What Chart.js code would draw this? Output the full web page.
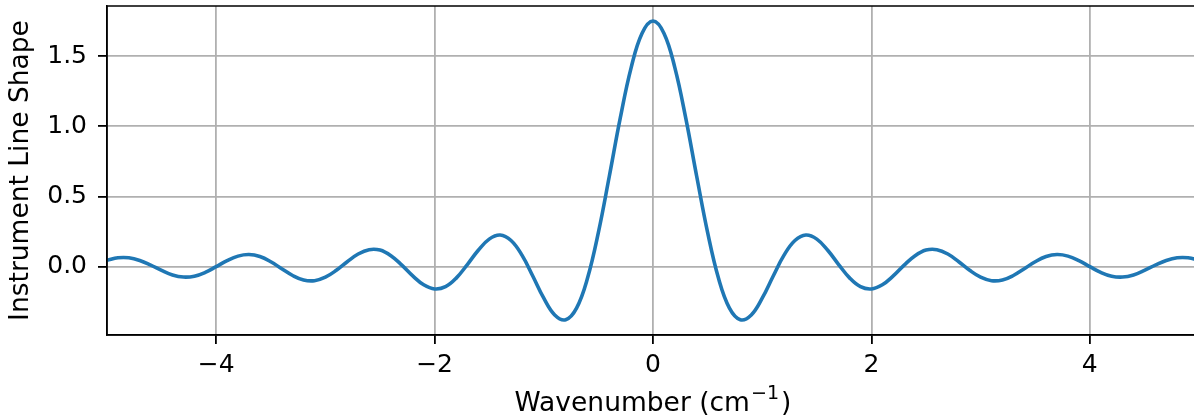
<!DOCTYPE html>
<html>
<head>
<meta charset="utf-8">
<script src="https://cdn.jsdelivr.net/npm/chart.js@4.4.1/dist/chart.umd.min.js"></script>
<style>
  html, body { margin: 0; padding: 0; background: #fff; overflow: hidden; }
  #wrap { position: relative; width: 1203px; height: 418px; }
</style>
</head>
<body>
<div id="wrap"><canvas id="chartIls"></canvas></div>
<script>
/* ── Data ─────────────────────────────────────────────────── */
const wavenumber = [
  -5.0, -4.9, -4.8, -4.7, -4.6, -4.5, -4.4, -4.3, -4.2, -4.1,
  -4.0, -3.9, -3.8, -3.7, -3.6, -3.5, -3.4, -3.3, -3.2, -3.1,
  -3.0, -2.9, -2.8, -2.7, -2.6, -2.5, -2.4, -2.3, -2.2, -2.1,
  -2.0, -1.9, -1.8, -1.7, -1.6, -1.5, -1.4, -1.3, -1.2, -1.1,
  -1.0, -0.9, -0.8, -0.7, -0.6, -0.5, -0.4, -0.3, -0.2, -0.1,
  0.0, 0.1, 0.2, 0.3, 0.4, 0.5, 0.6, 0.7, 0.8, 0.9,
  1.0, 1.1, 1.2, 1.3, 1.4, 1.5, 1.6, 1.7, 1.8, 1.9,
  2.0, 2.1, 2.2, 2.3, 2.4, 2.5, 2.6, 2.7, 2.8, 2.9,
  3.0, 3.1, 3.2, 3.3, 3.4, 3.5, 3.6, 3.7, 3.8, 3.9,
  4.0, 4.1, 4.2, 4.3, 4.4, 4.5, 4.6, 4.7, 4.8, 4.9, 5.0,
];

const lineShape = [
  0.045, 0.063, 0.063, 0.044, 0.011, -0.027, -0.059, -0.074, -0.068, -0.041,
  0.000, 0.043, 0.075, 0.086, 0.072, 0.035, -0.015, -0.063, -0.095, -0.100,
  -0.075, -0.026, 0.035, 0.090, 0.121, 0.118, 0.078, 0.011, -0.066, -0.129,
  -0.159, -0.143, -0.080, 0.015, 0.117, 0.196, 0.225, 0.186, 0.082, -0.068,
  -0.225, -0.344, -0.378, -0.295, -0.083, 0.244, 0.644, 1.058, 1.418, 1.663,
  1.750, 1.663, 1.418, 1.058, 0.644, 0.244, -0.083, -0.295, -0.378, -0.344,
  -0.225, -0.068, 0.082, 0.186, 0.225, 0.196, 0.117, 0.015, -0.080, -0.143,
  -0.159, -0.129, -0.066, 0.011, 0.078, 0.118, 0.121, 0.090, 0.035, -0.026,
  -0.075, -0.100, -0.095, -0.063, -0.015, 0.035, 0.072, 0.086, 0.075, 0.043,
  0.000, -0.041, -0.068, -0.074, -0.059, -0.027, 0.011, 0.044, 0.063, 0.063, 0.045,
];

const xTicks = [-4, -2, 0, 2, 4];
const yTicks = [0.0, 0.5, 1.0, 1.5];

const fontFamily = "'DejaVu Sans', sans-serif";
const gridColor = '#b0b0b0';
const labelSize = 26.5;

// matplotlib-style full frame + x title with a real superscript
const framePlugin = {
  id: 'frame',
  afterDraw(chart) {
    const { ctx, chartArea: a } = chart;
    ctx.save();
    ctx.strokeStyle = '#000';
    ctx.lineWidth = 1.5;
    ctx.strokeRect(a.left, a.top, a.right - a.left, a.bottom - a.top);

    // "Wavenumber (cm^-1)" centred under the plot
    const main = 'Wavenumber (cm';
    const sup = '\u22121';
    const tail = ')';
    const supSize = labelSize * 0.72;
    ctx.fillStyle = '#000';
    ctx.textBaseline = 'alphabetic';
    ctx.font = `${labelSize}px ${fontFamily}`;
    const wMain = ctx.measureText(main).width;
    const wTail = ctx.measureText(tail).width;
    ctx.font = `${supSize}px ${fontFamily}`;
    const wSup = ctx.measureText(sup).width;
    const cx = (a.left + a.right) / 2;
    let x = cx - (wMain + wSup + wTail + 3) / 2;
    const base = 411;
    ctx.font = `${labelSize}px ${fontFamily}`;
    ctx.fillText(main, x, base);
    x += wMain;
    ctx.font = `${supSize}px ${fontFamily}`;
    ctx.fillText(sup, x + 1, base - 12);
    x += wSup + 3;
    ctx.font = `${labelSize}px ${fontFamily}`;
    ctx.fillText(tail, x, base);
    ctx.restore();
  },
};

const fmt = (v, digits) => {
  const s = Number(v).toFixed(digits);
  return s.startsWith('-') ? '\u2212' + s.slice(1) : s;
};

new Chart(document.getElementById('chartIls'), {
  type: 'line',
  data: {
    datasets: [{
      data: wavenumber.map((x, i) => ({ x, y: lineShape[i] })),
      borderColor: '#1f77b4',
      borderWidth: 3.6,
      pointRadius: 0,
      tension: 0.4,
      fill: false,
    }],
  },
  options: {
    responsive: true,
    maintainAspectRatio: false,
    animation: false,
    layout: { padding: { top: 6, right: 4, left: 0, bottom: 0 } },
    plugins: {
      legend: { display: false },
      tooltip: { enabled: false },
    },
    scales: {
      x: {
        type: 'linear',
        min: -5.0,
        max: 5.0,
        afterBuildTicks: (scale) => { scale.ticks = xTicks.map(v => ({ value: v })); },
        afterFit: (scale) => {
          scale.height = 83;
          scale.paddingLeft = 0;
          scale.paddingRight = 0;
        },
        ticks: {
          color: '#000',
          font: { family: fontFamily, size: 25 },
          padding: 6,
          maxRotation: 0,
          callback: (v) => fmt(v, 0),
        },
        grid: { color: gridColor, lineWidth: 1.8, tickColor: '#000', tickLength: 9 },
        border: { color: '#000', width: 1.5 },
      },
      y: {
        min: -0.487,
        max: 1.857,
        afterBuildTicks: (scale) => { scale.ticks = yTicks.map(v => ({ value: v })); },
        afterFit: (scale) => {
          scale.width = 107;
          scale.paddingTop = 0;
          scale.paddingBottom = 0;
        },
        ticks: {
          color: '#000',
          font: { family: fontFamily, size: 25 },
          padding: 11,
          callback: (v) => fmt(v, 1),
        },
        grid: { color: gridColor, lineWidth: 1.8, tickColor: '#000', tickLength: 9 },
        border: { color: '#000', width: 1.5 },
        title: {
          display: true,
          text: 'Instrument Line Shape',
          color: '#000',
          font: { family: fontFamily, size: labelSize },
          padding: { top: 5, bottom: 0 },
        },
      },
    },
  },
  plugins: [framePlugin],
});
</script>
</body>
</html>
